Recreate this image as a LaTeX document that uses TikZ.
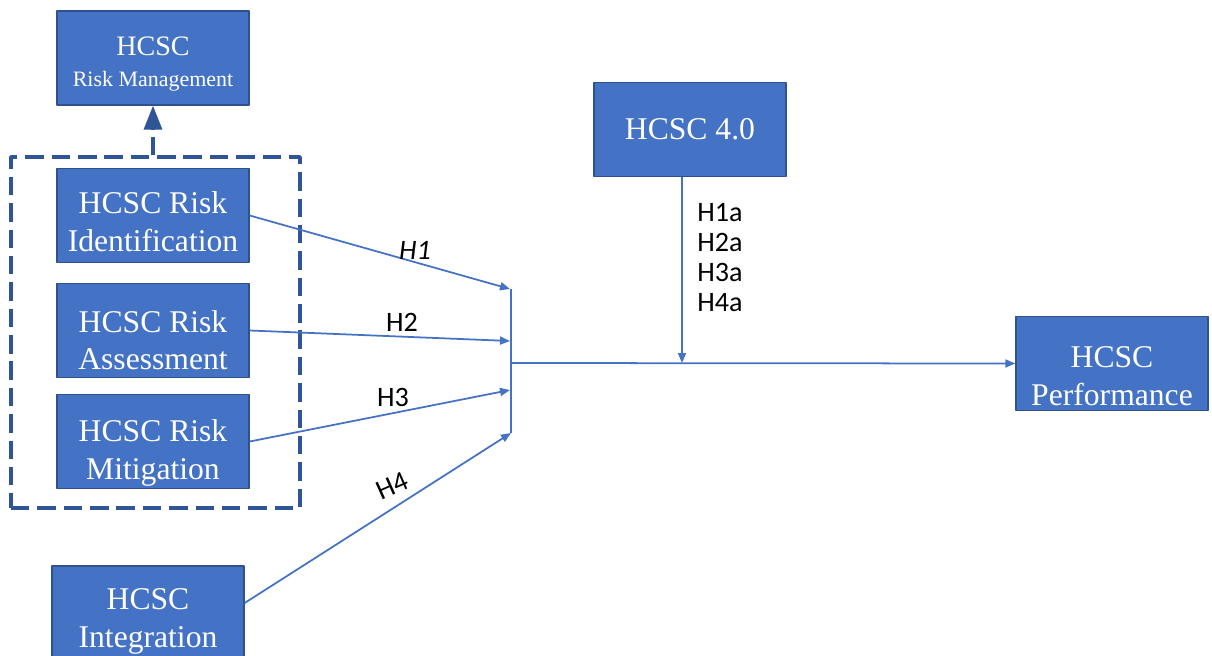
\documentclass[tikz,border=0pt]{standalone}
\usepackage{fontspec}
\setmainfont{Liberation Serif}
\newfontfamily\calibri{Carlito}
\usetikzlibrary{arrows.meta}
\definecolor{boxfill}{HTML}{4472C4}
\definecolor{boxline}{HTML}{2F528F}
\definecolor{dashblue}{HTML}{2F5597}
\tikzset{
    blkbox/.style={draw=boxline, line width=0.8pt, fill=boxfill, text=white, align=center,
        minimum width=3.84cm, minimum height=1.88cm, inner sep=0pt,
        font=\fontsize{18}{21.6}\selectfont},
    link/.style={draw=boxfill, line width=1pt, -{Triangle[length=0.2cm,width=0.16cm]}},
    hlab/.style={font=\calibri\fontsize{16}{17}\selectfont, inner sep=0pt},
    grpbox/.style={draw=dashblue, line width=2pt, dash pattern=on 10.5pt off 4.5pt}
}
% raise the first line box so the text sits a little low in its box
\newcommand{\lowtxt}[1]{\rule{0pt}{#1}}
\begin{document}
\begin{tikzpicture}[x=0.02cm, y=-0.02cm, line join=round]
    \clip (0,0) rectangle (1212,655);
    %\draw[help lines] (0,0) grid[step=50] (1212,655);
    % the dashed group and the box it points to
    \node[grpbox, minimum width=5.78cm, minimum height=7.02cm] (grp) at (155.5,332.5) {};
    \node[blkbox, font=\fontsize{16}{17.6}\selectfont] (riskman) at (153,58)
        {\lowtxt{17.4pt}HCSC\\{\fontsize{12.5}{15}\selectfont Risk Management}};
    \draw[grpbox, -{Triangle[length=0.48cm,width=0.36cm]}] (grp.north -| riskman.south) -- (riskman.south);
    \foreach \n/\y/\h/\t in {ident/215.5/19pt/Identification, assess/330.5/23.5pt/Assessment,
        mitig/441.5/26pt/Mitigation}{
        \node[blkbox] (\n) at (153,\y) {\lowtxt{\h}HCSC Risk\\\t};}
    \node[blkbox] (integ) at (148,613) {\lowtxt{22pt}HCSC\\Integration};
    \node[blkbox] (hc40) at (690,129.5) {HCSC 4.0};
    \node[blkbox] (perf) at (1112,363.5) {\lowtxt{26pt}HCSC\\Performance};
    % the bar that collects the four paths
    \coordinate (bartop) at (511,289);
    \coordinate (barbot) at (511,433);
    \coordinate (mod) at (682,363);
    \draw[draw=boxfill, line width=1pt] (bartop) -- (barbot);
    \draw[link] (ident.east) -- (510,289);
    \draw[link] (assess.east) -- (510,341);
    \draw[link] (mitig.east) -- (510,390);
    \draw[link] ([yshift=0.2cm]integ.east) -- (barbot);
    \draw[link] (bartop |- mod) -- (perf.west);
    \draw[link] (hc40.south -| mod) -- (mod);
    % hypothesis labels
    \node[hlab, font=\calibri\itshape\fontsize{16}{17}\selectfont] (h1) at (415,250) {H1};
    \node[hlab] (h2) at (402,322) {H2};
    \node[hlab] (h3) at (393,397) {H3};
    \node[hlab, rotate=24] (h4) at (392,486) {H4};
    \node[hlab, align=left, anchor=north west] (hyp) at (697,203) {H1a\\H2a\\H3a\\H4a};
\end{tikzpicture}
\end{document}
